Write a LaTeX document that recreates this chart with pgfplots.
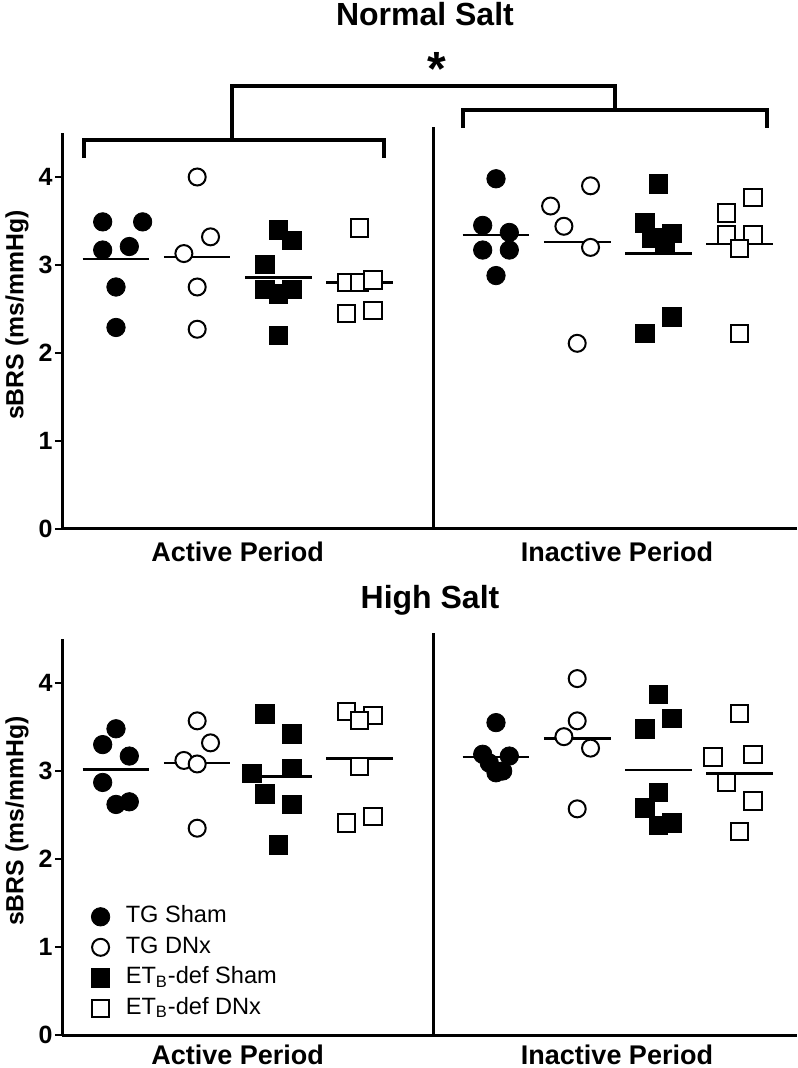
\documentclass[border=0pt]{standalone}
\usepackage{fontspec}
\setmainfont{Liberation Sans}
\usepackage{pgfplots}
\pgfplotsset{compat=1.18}

\pgfplotsset{
  panel/.style={
    scale only axis, width=367.5pt, height=198pt,
    xmin=0.335, xmax=9.387, ymin=0, ymax=4.5,
    enlargelimits=false,
    axis x line=bottom, axis y line=left,
    axis line style={line width=1.5pt, -},
    xtick=\empty, ytick={0,1,2,3,4},
    tick align=outside, major tick length=3.5pt,
    ytick style={line width=1.2pt, black},
    /pgf/number format/assume math mode=true,
    yticklabel style={font=\bfseries\fontsize{12.5}{12.5}\selectfont, inner sep=1pt},
    clip=false,
    unbounded coords=jump,
  },
  dot/.style={only marks,
    legend image code/.code={\draw[##1] plot coordinates {(0pt,0pt)};}},
  tgsham/.style={dot, mark=*, mark size=4.6pt, mark options={draw=black, fill=black}},
  tgdnx/.style={dot, mark=*, mark size=4.25pt, mark options={draw=black, fill=white, line width=1pt}},
  etsham/.style={dot, mark=square*, mark size=4.6pt, mark options={draw=black, fill=black}},
  etdnx/.style={dot, mark=square*, mark size=4.3pt, mark options={draw=black, fill=white, line width=1pt}},
  meanline/.style={black, line width=1.3pt, forget plot},
}

\begin{document}
\begin{tikzpicture}
% ---------------- Normal salt ----------------
\begin{axis}[panel, at={(0pt,0pt)}]
  \addplot[meanline] coordinates {(0.59,3.07) (1.41,3.07) (1.5,nan) (1.59,3.09) (2.41,3.09) (2.5,nan)
    (2.59,2.86) (3.41,2.86) (3.5,nan) (3.59,2.80) (4.41,2.80) (5,nan)
    (5.27,3.34) (6.09,3.34) (6.2,nan) (6.27,3.26) (7.09,3.26) (7.2,nan)
    (7.27,3.13) (8.09,3.13) (8.2,nan) (8.27,3.24) (9.09,3.24)};
  \addplot[tgsham] coordinates {(0.836,3.49) (1.328,3.49) (0.836,3.17) (1.164,3.21) (1,2.75) (1,2.29)
    (5.68,3.98) (5.516,3.45) (5.844,3.37) (5.516,3.17) (5.844,3.17) (5.68,2.88)};
  \addplot[tgdnx] coordinates {(2,4.00) (2.164,3.32) (1.836,3.13) (2,2.75) (2,2.27)
    (6.844,3.90) (6.352,3.67) (6.516,3.44) (6.844,3.20) (6.68,2.11)};
  \addplot[etsham] coordinates {(3,3.40) (3.164,3.28) (2.836,3.01) (2.836,2.72) (3,2.67) (3.164,2.72) (3,2.20)
    (7.68,3.92) (7.516,3.48) (7.598,3.31) (7.844,3.36) (7.762,3.24) (7.844,2.41) (7.516,2.22)};
  \addplot[etdnx] coordinates {(4,3.42) (3.836,2.80) (4,2.80) (4.164,2.83) (3.836,2.45) (4.164,2.48)
    (8.844,3.77) (8.516,3.59) (8.516,3.34) (8.844,3.34) (8.68,3.19) (8.68,2.22)};

  \draw[line width=1.5pt] (axis cs:4.916,0) -- (axis cs:4.916,4.568);
  % significance brackets
  \draw[line width=1.6pt] (axis cs:0.606,4.216) -- (axis cs:0.606,4.42) -- (axis cs:4.30,4.42) -- (axis cs:4.30,4.216);
  \draw[line width=1.6pt] (axis cs:5.273,4.557) -- (axis cs:5.273,4.761) -- (axis cs:9.017,4.761) -- (axis cs:9.017,4.557);
  \draw[line width=1.6pt] (axis cs:2.429,4.42) -- (axis cs:2.429,5.034) -- (axis cs:7.145,5.034) -- (axis cs:7.145,4.761);
  \node[font=\bfseries\fontsize{24}{24}\selectfont, anchor=north, inner sep=0pt] at (axis cs:4.95,5.42) {*};

  \node[font=\bfseries\fontsize{16}{18}\selectfont, anchor=base] at (axis cs:4.805,5.727) {Normal Salt};
  \node[font=\bfseries\fontsize{13.5}{15}\selectfont, anchor=base] at (axis cs:2.499,-0.372) {Active Period};
  \node[font=\bfseries\fontsize{13.5}{15}\selectfont, anchor=base] at (axis cs:7.17,-0.372) {Inactive Period};
  \node[rotate=90, font=\bfseries\fontsize{12.4}{13}\selectfont] at (axis cs:-0.219,2.43) {sBRS (ms/mmHg)};
\end{axis}

% ---------------- High salt ----------------
\begin{axis}[panel, at={(0pt,-253pt)},
  legend style={at={(axis cs:0.692,1.484)}, anchor=north west, draw=none, fill=none,
    inner sep=0pt, row sep=3.25pt, column sep=8pt,
    font=\fontsize{11.8}{13}\selectfont,
    nodes={inner sep=0pt, text height=9pt, text depth=3pt}},
  legend cell align=left]
  \addplot[meanline] coordinates {(0.59,3.02) (1.41,3.02) (1.5,nan) (1.59,3.09) (2.41,3.09) (2.5,nan)
    (2.59,2.94) (3.41,2.94) (3.5,nan) (3.59,3.14) (4.41,3.14) (5,nan)
    (5.27,3.16) (6.09,3.16) (6.2,nan) (6.27,3.37) (7.09,3.37) (7.2,nan)
    (7.27,3.01) (8.09,3.01) (8.2,nan) (8.27,2.97) (9.09,2.97)};
  \addplot[tgsham] coordinates {(1,3.48) (0.836,3.30) (1.164,3.17) (0.836,2.87) (1,2.62) (1.164,2.65)
    (5.68,3.55) (5.516,3.19) (5.844,3.17) (5.598,3.09) (5.762,3.00) (5.68,2.98)};
  \addlegendentry{TG Sham}
  \addplot[tgdnx] coordinates {(2,3.57) (2.164,3.32) (1.836,3.12) (2,3.08) (2,2.35)
    (6.68,4.05) (6.68,3.57) (6.516,3.39) (6.844,3.26) (6.68,2.57)};
  \addlegendentry{TG DNx}
  \addplot[etsham] coordinates {(2.836,3.65) (3.164,3.42) (3.164,3.03) (2.672,2.97) (2.836,2.74) (3.164,2.62) (3,2.16)
    (7.68,3.87) (7.844,3.60) (7.516,3.48) (7.68,2.76) (7.516,2.58) (7.844,2.41) (7.68,2.38)};
  \addlegendentry{ET\textsubscript{B}-def Sham}
  \addplot[etdnx] coordinates {(3.836,3.68) (4.164,3.63) (4,3.57) (4,3.05) (3.836,2.41) (4.164,2.48)
    (8.68,3.65) (8.352,3.16) (8.844,3.19) (8.516,2.87) (8.844,2.66) (8.68,2.31)};
  \addlegendentry{ET\textsubscript{B}-def DNx}

  \draw[line width=1.5pt] (axis cs:4.916,0) -- (axis cs:4.916,4.57);
  \node[font=\bfseries\fontsize{16}{18}\selectfont, anchor=base] at (axis cs:4.867,4.847) {High Salt};
  \node[font=\bfseries\fontsize{13.5}{15}\selectfont, anchor=base] at (axis cs:2.499,-0.335) {Active Period};
  \node[font=\bfseries\fontsize{13.5}{15}\selectfont, anchor=base] at (axis cs:7.17,-0.335) {Inactive Period};
  \node[rotate=90, font=\bfseries\fontsize{12.4}{13}\selectfont] at (axis cs:-0.219,2.43) {sBRS (ms/mmHg)};
\end{axis}

\pgfresetboundingbox
\path[use as bounding box] (-31pt,-269.5pt) rectangle (367.5pt,264.5pt);
\end{tikzpicture}
\end{document}
